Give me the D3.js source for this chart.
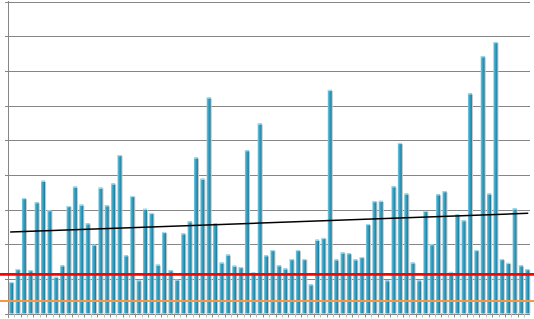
<!DOCTYPE html>
<html>
<head>
<meta charset="utf-8">
<script src="https://cdnjs.cloudflare.com/ajax/libs/d3/7.8.5/d3.min.js"></script>
<style>
  html, body { margin: 0; padding: 0; background: #fff; }
  svg { display: block; }
</style>
</head>
<body>
<div id="chart"></div>
<script>
// valeurs (unités arbitraires, une ligne de grille = 100)
const values = [
  91, 128, 333, 125, 321, 383, 298, 106, 139, 310,
  366, 314, 260, 199, 363, 312, 375, 457, 168, 339,
  96, 302, 290, 141, 235, 125, 98, 231, 266, 450,
  389, 623, 260, 147, 170, 138, 134, 471, 118, 548,
  168, 183, 139, 130, 157, 183, 157, 84, 213, 218,
  645, 156, 176, 174, 156, 163, 258, 324, 325, 96,
  367, 492, 346, 147, 96, 296, 200, 344, 353, 120,
  286, 269, 635, 183, 742, 346, 783, 157, 146, 303,
  139, 128
];
const categories = values.map((d, i) => i + 1);
const yTicks = [0, 100, 200, 300, 400, 500, 600, 700, 800, 900];
const redLevel = 113;
const orangeLevel = 36;
const trendEnds = [235, 289]; // début et fin de la tendance

const width = 534, height = 319;
const svg = d3.select('#chart').append('svg')
  .attr('width', width)
  .attr('height', height);

const x = d3.scaleBand()
  .domain(categories)
  .range([8, 530.4])
  .paddingInner(0.37)
  .paddingOuter(0.18);

const y = d3.scaleLinear()
  .domain([0, 900])
  .range([313.5, 1.5]);

const defs = svg.append('defs');
const grad = defs.append('linearGradient')
  .attr('id', 'barGrad')
  .attr('x1', '0%').attr('x2', '100%').attr('y1', '0%').attr('y2', '0%');
grad.append('stop').attr('offset', '0%').attr('stop-color', '#7fd0e6');
grad.append('stop').attr('offset', '35%').attr('stop-color', '#3fa9ca');
grad.append('stop').attr('offset', '75%').attr('stop-color', '#2a8db0');
grad.append('stop').attr('offset', '100%').attr('stop-color', '#1f6f8c');

// grille horizontale
svg.append('g')
  .selectAll('line')
  .data(yTicks)
  .join('line')
  .attr('x1', 5)
  .attr('x2', 530)
  .attr('y1', d => Math.round(y(d)) + 0.5)
  .attr('y2', d => Math.round(y(d)) + 0.5)
  .attr('stroke', '#868686')
  .attr('stroke-width', 1);

// axe vertical
svg.append('line')
  .attr('x1', 8.5).attr('x2', 8.5)
  .attr('y1', 1).attr('y2', 318)
  .attr('stroke', '#868686');

// graduations du bas (entre les catégories)
const step = x.step();
svg.append('g')
  .selectAll('line')
  .data(categories)
  .join('line')
  .attr('x1', d => Math.round(x(d) - step * 0.18) + 0.5)
  .attr('x2', d => Math.round(x(d) - step * 0.18) + 0.5)
  .attr('y1', y(0))
  .attr('y2', y(0) + 4)
  .attr('stroke', (d, i) => i % 2 ? '#bdbdbd' : '#8c8c8c');

const bw = x.bandwidth();

// ombre des barres
svg.append('g')
  .selectAll('rect')
  .data(values)
  .join('rect')
  .attr('x', (d, i) => x(categories[i]) + bw - 0.2)
  .attr('y', d => y(d) + 1)
  .attr('width', 1.3)
  .attr('height', d => y(0) - y(d) - 1)
  .attr('fill', '#c8c8c8');

// barres
svg.append('g')
  .selectAll('rect')
  .data(values)
  .join('rect')
  .attr('x', (d, i) => x(categories[i]))
  .attr('y', d => y(d))
  .attr('width', bw)
  .attr('height', d => y(0) - y(d))
  .attr('fill', 'url(#barGrad)');

// reflet en haut des barres
svg.append('g')
  .selectAll('rect')
  .data(values)
  .join('rect')
  .attr('x', (d, i) => x(categories[i]))
  .attr('y', d => y(d))
  .attr('width', bw)
  .attr('height', 1.2)
  .attr('fill', '#9fe0f0');

// ligne rouge et ligne orange
svg.append('line')
  .attr('x1', 0).attr('x2', width)
  .attr('y1', y(redLevel)).attr('y2', y(redLevel))
  .attr('stroke', '#ff0000')
  .attr('stroke-width', 2.6);

svg.append('line')
  .attr('x1', 0).attr('x2', width)
  .attr('y1', y(orangeLevel)).attr('y2', y(orangeLevel))
  .attr('stroke', '#f79646')
  .attr('stroke-width', 2.2);

// tendance
const first = categories[0], last = categories[categories.length - 1];
svg.append('line')
  .attr('x1', x(first) + bw / 2 - 1)
  .attr('x2', x(last) + bw / 2 + 1)
  .attr('y1', y(trendEnds[0]))
  .attr('y2', y(trendEnds[1]))
  .attr('stroke', '#000')
  .attr('stroke-width', 1.5);
</script>
</body>
</html>
